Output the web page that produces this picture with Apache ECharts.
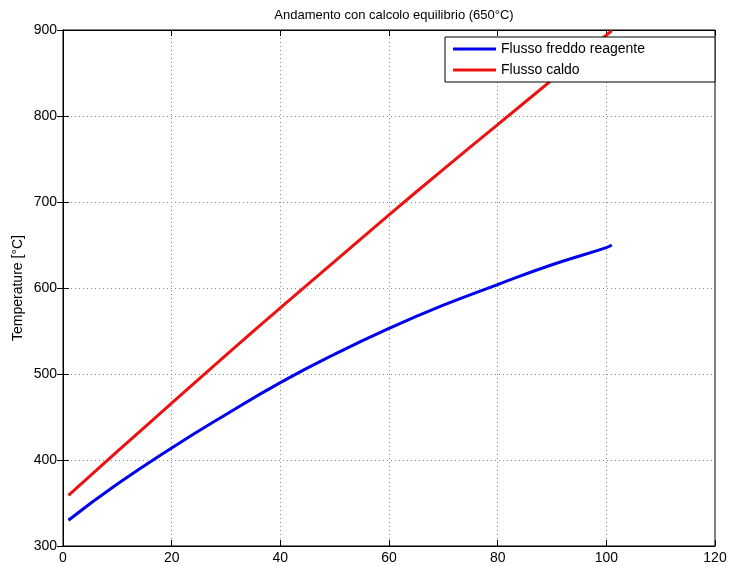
<!DOCTYPE html>
<html><head><meta charset="utf-8">
<script src="https://cdn.jsdelivr.net/npm/echarts@6/dist/echarts.min.js"></script>
<style>html,body{margin:0;padding:0;background:#fff}#c{width:731px;height:566px}</style>
</head><body><div id="c"></div>
<script>
var titleText = 'Andamento con calcolo equilibrio (650°C)';
var yAxisName = 'Temperature [°C]';
var seriesNames = ['Flusso freddo reagente', 'Flusso caldo'];
var xValues = [1, 10, 20, 30, 40, 50, 60, 70, 80, 90, 100, 101];
var coldValues = [330, 372, 414, 453, 490, 523, 553, 580, 604, 627, 647, 650];
var hotValues = [359, 410, 466, 522, 577, 631, 685, 738, 790, 842, 894, 899];
var xMin = 0, xMax = 120, xStep = 20;
var yMin = 300, yMax = 900, yStep = 100;

function pairs(xs, ys){ return xs.map(function(x,i){ return [x, ys[i]]; }); }

var font = 'Liberation Sans, Arial, sans-serif';
var chart = echarts.init(document.getElementById('c'));
var gridLine = {show:true, lineStyle:{color:'#888', type:[1,3], width:1}};
chart.setOption({
  animation:false,
  backgroundColor:'#fff',
  title:{text:titleText, left:389, textAlign:'center', top:4,
    textStyle:{fontFamily:font, fontSize:13, fontWeight:'normal', color:'#000'}},
  legend:{orient:'vertical', right:16, top:37, width:222,
    backgroundColor:'#fff', borderColor:'#000', borderWidth:1,
    padding:[5,10,5,8], itemGap:7, itemWidth:43, itemHeight:3, icon:'rect',
    textStyle:{fontFamily:font, fontSize:14, color:'#000', lineHeight:14, padding:[0,60,0,0]},
    data:seriesNames},
  grid:{left:63, right:16, top:30, bottom:20, show:true, borderColor:'#000', borderWidth:1,
    backgroundColor:'#fff', containLabel:false, outerBoundsMode:'none'},
  xAxis:[{type:'value', min:xMin, max:xMax, interval:xStep,
    axisLine:{show:true, lineStyle:{color:'#000'}},
    axisTick:{show:true, inside:true, length:6, lineStyle:{color:'#000'}},
    axisLabel:{fontFamily:font, fontSize:14, color:'#000', margin:5},
    splitLine:gridLine},
    {type:'value', position:'top', min:xMin, max:xMax, interval:xStep,
    axisLine:{show:true, lineStyle:{color:'#000'}},
    axisTick:{show:true, inside:true, length:6, lineStyle:{color:'#000'}},
    axisLabel:{show:false}, splitLine:{show:false}}],
  yAxis:[{type:'value', min:yMin, max:yMax, interval:yStep,
    name:yAxisName, nameLocation:'middle', nameGap:38, nameRotate:90, nameMoveOverlap:false,
    nameTextStyle:{fontFamily:font, fontSize:14, color:'#000'},
    axisLine:{show:true, lineStyle:{color:'#000'}},
    axisTick:{show:true, inside:true, length:6, lineStyle:{color:'#000'}},
    axisLabel:{fontFamily:font, fontSize:14, color:'#000', margin:6},
    splitLine:gridLine},
    {type:'value', position:'right', min:yMin, max:yMax, interval:yStep,
    axisLine:{show:true, lineStyle:{color:'#000'}},
    axisTick:{show:true, inside:true, length:6, lineStyle:{color:'#000'}},
    axisLabel:{show:false}, splitLine:{show:false}}],
  series:[
    {name:seriesNames[0], type:'line', smooth:true, showSymbol:false, clip:true,
     data:pairs(xValues, coldValues), lineStyle:{color:'#0000ee', width:3}, itemStyle:{color:'#0000ee'}},
    {name:seriesNames[1], type:'line', smooth:true, showSymbol:false, clip:true,
     data:pairs(xValues, hotValues), lineStyle:{color:'#ee1111', width:3}, itemStyle:{color:'#ee1111'}}
  ]
});
</script></body></html>
